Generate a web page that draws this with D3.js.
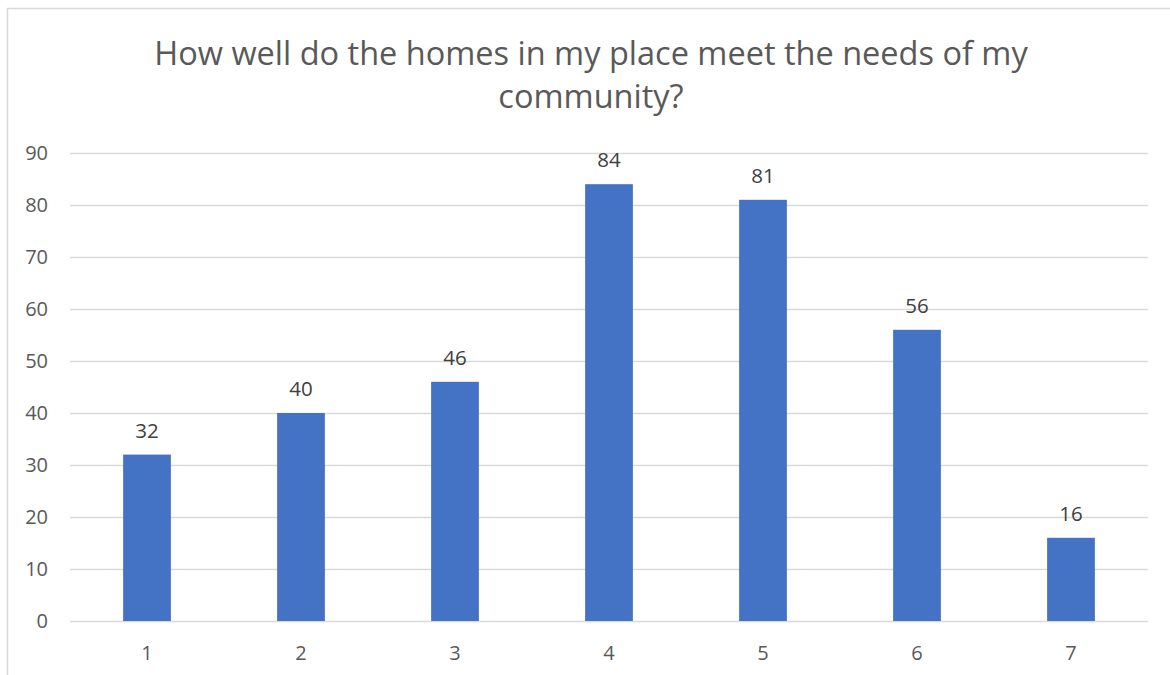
<!DOCTYPE html>
<html><head><meta charset="utf-8">
<script src="https://cdn.jsdelivr.net/npm/d3@7"></script>
<style>body{margin:0;background:#fff}svg{display:block}</style>
</head><body><svg id="c" width="1170" height="675"></svg>
<script>
const categories = ["1","2","3","4","5","6","7"];
const values = [32,40,46,84,81,56,16];
const yTicks = [0,10,20,30,40,50,60,70,80,90];
const titleLines = ["How well do the homes in my place meet the needs of my","community?"];

const svg = d3.select("#c");
const font = "'Open Sans', sans-serif";
const textColor = "#595959";

svg.append("rect").attr("x",7.5).attr("y",8.5).attr("width",1200).attr("height",700)
  .attr("fill","#fff").attr("stroke","#d9d9d9").attr("stroke-width",1.5);

const x = d3.scaleBand().domain(categories).range([70,1148]).paddingInner(0.69).paddingOuter(0.345);
const y = d3.scaleLinear().domain([0,90]).range([621,153]);

const grid = svg.append("g");
grid.selectAll("line").data(yTicks).join("line")
  .attr("x1",70).attr("x2",1148).attr("y1",d=>y(d)+0.5).attr("y2",d=>y(d)+0.5)
  .attr("stroke","#d9d9d9").attr("stroke-width",1.5);

const yAxis = svg.append("g").attr("transform","translate(56,0)")
  .call(d3.axisLeft(y).tickValues(yTicks).tickSize(0).tickPadding(8));
yAxis.select(".domain").remove();
yAxis.selectAll("text").attr("font-family",font).attr("font-size",20).attr("fill",textColor);

const xAxis = svg.append("g").attr("transform","translate(0,621)")
  .call(d3.axisBottom(x).tickSize(0).tickPadding(25));
xAxis.select(".domain").remove();
xAxis.selectAll("text").attr("font-family",font).attr("font-size",20).attr("fill",textColor);

svg.append("g").selectAll("rect").data(values).join("rect")
  .attr("x",(d,i)=>x(categories[i])).attr("width",x.bandwidth())
  .attr("y",d=>y(d)).attr("height",d=>y(0)-y(d)).attr("fill","#4472C4");

svg.append("g").selectAll("text").data(values).join("text")
  .attr("x",(d,i)=>x(categories[i])+x.bandwidth()/2).attr("y",d=>y(d)-17)
  .attr("text-anchor","middle").attr("font-family",font).attr("font-size",20.5)
  .attr("fill","#404040").text(d=>d);

svg.append("g").selectAll("text").data(titleLines).join("text")
  .attr("x",591).attr("y",(d,i)=>65+i*43).attr("text-anchor","middle")
  .attr("font-family",font).attr("font-size",32.5).attr("fill",textColor).text(d=>d);
</script></body></html>
